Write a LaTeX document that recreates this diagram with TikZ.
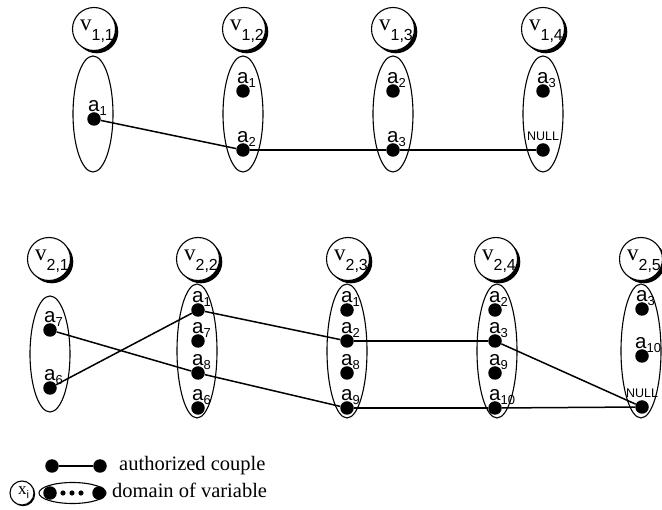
\documentclass[tikz,border=0pt]{standalone}
\usepackage{fontspec}
\setmainfont{Liberation Serif}
\newfontfamily\helv{Liberation Sans}
\usetikzlibrary{shapes.geometric,shadows}

% variable name: serif v with a sans subscript
\newcommand\vname[1]{{\fontsize{23pt}{23pt}\selectfont v}\raisebox{-10pt}{\helv\fontsize{16pt}{16pt}\selectfont #1}}
% value name: sans a with a subscript
\newcommand\aname[1]{{\helv\fontsize{20.5pt}{20.5pt}\selectfont a\raisebox{-4pt}{\fontsize{13pt}{13pt}\selectfont #1}}}
\newcommand\nullname{{\helv\fontsize{12.5pt}{12.5pt}\selectfont NULL}}

\tikzset{
  var/.style={circle, draw, line width=1.1pt, fill=white, minimum size=43pt, inner sep=0pt,
    drop shadow={shadow xshift=2.8pt, shadow yshift=-2.8pt, fill=black, opacity=1}},
  vtext/.style={inner sep=0pt, xshift=3pt, yshift=-2pt},
  dom/.style={ellipse, draw, line width=1.1pt, minimum width=40pt, inner sep=0pt},
  dom1/.style={dom, minimum height=116pt},
  dom2/.style={dom, minimum height=134pt},
  val/.style={circle, fill=black, minimum size=13.5pt, inner sep=0pt},
  vallab/.style={anchor=base west, inner sep=0pt, xshift=-6pt, yshift=7.5pt},
  nulllab/.style={anchor=base, inner sep=0pt, yshift=9pt},
  couple/.style={line width=1.5pt},
  legtext/.style={anchor=base west, inner sep=0pt, font=\fontsize{20.5pt}{20.5pt}\selectfont},
}

\begin{document}
\begin{tikzpicture}[x=1pt, y=-1pt]
\useasboundingbox (0,0) rectangle (662,510);

% ---------- first network ----------
\foreach \n/\x in {11/94, 12/244, 13/393, 14/543}
  \node[var] (v\n) at (\x,29) {};
\node[vtext] at (v11) {\vname{1,1}};
\node[vtext] at (v12) {\vname{1,2}};
\node[vtext] at (v13) {\vname{1,3}};
\node[vtext] at (v14) {\vname{1,4}};

\node[dom1] (d11) at (93,114) {};
\node[dom1] (d12) at (243,114) {};
\node[dom1] (d13) at (393,114) {};
\node[dom1] (d14) at (543,114) {};

\node[val] (p11a1) at (94,119) {};
\node[val] (p12a1) at (243,91) {};
\node[val] (p12a2) at (243,150) {};
\node[val] (p13a2) at (393,91) {};
\node[val] (p13a3) at (393,150) {};
\node[val] (p14a3) at (543,91) {};
\node[val] (p14nl) at (543,150) {};

\node[vallab] at (p11a1) {\aname{1}};
\node[vallab] at (p12a1) {\aname{1}};
\node[vallab] at (p12a2) {\aname{2}};
\node[vallab] at (p13a2) {\aname{2}};
\node[vallab] at (p13a3) {\aname{3}};
\node[vallab] at (p14a3) {\aname{3}};
\node[nulllab] at (p14nl) {\nullname};

\draw[couple] (p11a1) -- (p12a2);
\draw[couple] (p12a2) -- (p13a3);
\draw[couple] (p13a3) -- (p14nl);

% ---------- second network ----------
\foreach \n/\x in {21/49, 22/198, 23/348, 24/496, 25/641}
  \node[var] (v\n) at (\x,259) {};
\node[vtext] at (v21) {\vname{2,1}};
\node[vtext] at (v22) {\vname{2,2}};
\node[vtext] at (v23) {\vname{2,3}};
\node[vtext] at (v24) {\vname{2,4}};
\node[vtext] at (v25) {\vname{2,5}};

\node[dom1] (d21) at (50,354) {};
\node[dom2] (d22) at (197,351) {};
\node[dom2] (d23) at (347,351) {};
\node[dom2] (d24) at (497,351) {};
\node[dom2] (d25) at (641,351) {};

\node[val] (p21a7) at (50,330) {};
\node[val] (p21a6) at (50,388) {};

\node[val] (p22a1) at (198,310) {};
\node[val] (p22a7) at (198,341) {};
\node[val] (p22a8) at (198,373) {};
\node[val] (p22a6) at (198,408) {};

\node[val] (p23a1) at (347,310) {};
\node[val] (p23a2) at (347,341) {};
\node[val] (p23a8) at (347,373) {};
\node[val] (p23a9) at (347,408) {};

\node[val] (p24a2) at (495,310) {};
\node[val] (p24a3) at (495,341) {};
\node[val] (p24a9) at (495,373) {};
\node[val] (p24a10) at (495,408) {};

\node[val] (p25a3) at (642,309) {};
\node[val] (p25a10) at (642,356) {};
\node[val] (p25nl) at (642,407) {};

\node[vallab] at (p21a7) {\aname{7}};
\node[vallab] at (p21a6) {\aname{6}};
\node[vallab] at (p22a1) {\aname{1}};
\node[vallab] at (p22a7) {\aname{7}};
\node[vallab] at (p22a8) {\aname{8}};
\node[vallab] at (p22a6) {\aname{6}};
\node[vallab] at (p23a1) {\aname{1}};
\node[vallab] at (p23a2) {\aname{2}};
\node[vallab] at (p23a8) {\aname{8}};
\node[vallab] at (p23a9) {\aname{9}};
\node[vallab] at (p24a2) {\aname{2}};
\node[vallab] at (p24a3) {\aname{3}};
\node[vallab] at (p24a9) {\aname{9}};
\node[vallab] at (p24a10) {\aname{10}};
\node[vallab] at (p25a3) {\aname{3}};
\node[vallab, xshift=-1pt] at (p25a10) {\aname{10}};
\node[nulllab] at (p25nl) {\nullname};

\draw[couple] (p21a6) -- (p22a1);
\draw[couple] (p21a7) -- (p22a8);
\draw[couple] (p22a1) -- (p23a2);
\draw[couple] (p22a8) -- (p23a9);
\draw[couple] (p23a2) -- (p24a3);
\draw[couple] (p23a9) -- (p24a10);
\draw[couple] (p24a10) -- (p25nl);
\draw[couple] (p24a3) -- (p25nl);

% ---------- legend ----------
\node[val] (k1) at (52,466) {};
\node[val] (k2) at (100,466) {};
\draw[couple] (k1) -- (k2);
\node[legtext] (kt1) at (119,471) {authorized couple};

\node[circle, draw, line width=1.1pt, minimum size=24pt, inner sep=0pt,
  drop shadow={shadow xshift=1.2pt, shadow yshift=-1.2pt, fill=black, opacity=1}, fill=white]
  (kx) at (22,493) {};
\node[inner sep=0pt, xshift=1.5pt] at (kx) {{\fontsize{17pt}{17pt}\selectfont x}\raisebox{-4pt}{\helv\fontsize{11pt}{11pt}\selectfont i}};
\node[ellipse, draw, line width=1.1pt, minimum width=67pt, minimum height=21pt, inner sep=0pt] (kd) at (72.5,493) {};
\node[val] (kd1) at (50,493) {};
\node[val] (kd2) at (99,493) {};
\foreach \x in {63,72,81}
  \fill (\x,493) circle (2.6pt);
\node[legtext] (kt2) at (112,498) {domain of variable};
\end{tikzpicture}
\end{document}
